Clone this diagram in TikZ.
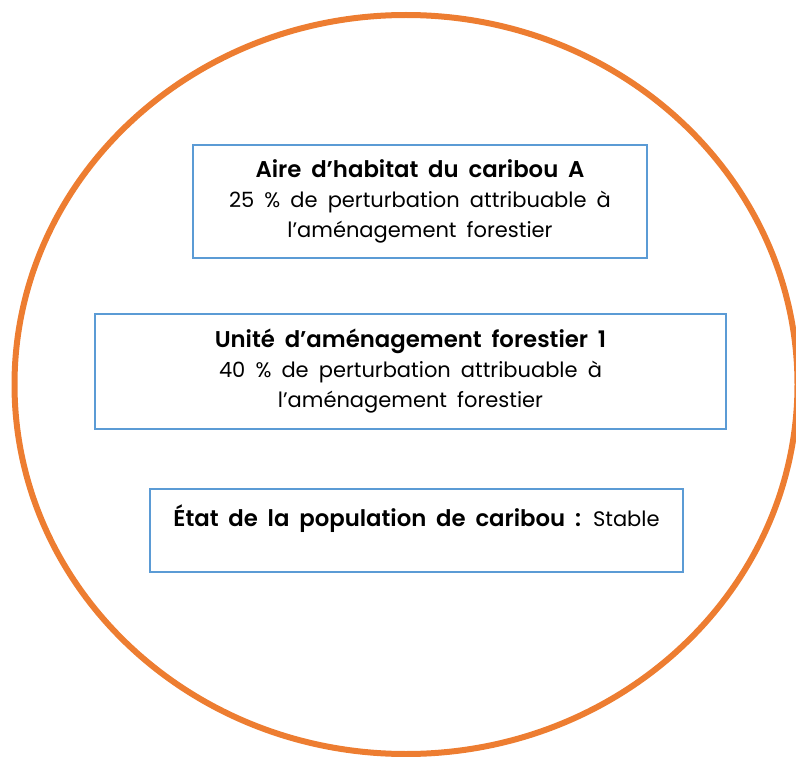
\documentclass[tikz,border=0pt]{standalone}
\usepackage{fontspec}
\setmainfont{Poppins}[WordSpace=1.8,BoldFont={Poppins SemiBold}]
\definecolor{orng}{HTML}{ED7D31}
\definecolor{bluebd}{HTML}{5B9BD5}
\newcommand{\ttl}[1]{{\fontsize{22.8}{30}\selectfont\bfseries #1}}
\begin{document}
\begin{tikzpicture}[x=1pt,y=-1pt,
  infobox/.style={draw=bluebd,line width=2.2pt,align=center,inner sep=0pt,
    font=\fontsize{21}{30}\selectfont,text=black}]
\useasboundingbox (0,0) rectangle (796,757);
\draw[orng,line width=6pt] (406,384.5) ellipse [x radius=391.5, y radius=369.5];
\node[infobox,minimum width=454pt,minimum height=113pt] (b1) at (420,201.5)
  {\ttl{Aire d’habitat du caribou A}\\25 \% de perturbation attribuable à\\l’aménagement forestier};
\node[infobox,minimum width=631pt,minimum height=115pt] (b2) at (410.5,371.5)
  {\ttl{Unité d’aménagement forestier 1}\\40 \% de perturbation attribuable à\\l’aménagement forestier};
\node[infobox,minimum width=533pt,minimum height=83pt] (b3) at (416.5,530.5)
  {\ttl{État de la population de caribou :} Stable\\\mbox{}};
\end{tikzpicture}
\end{document}
